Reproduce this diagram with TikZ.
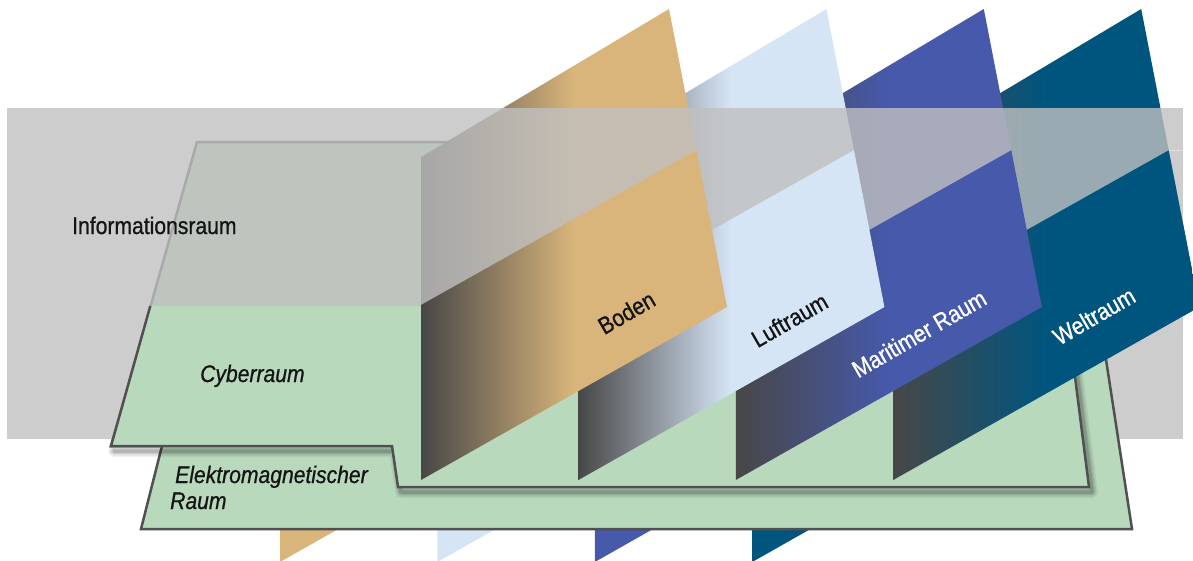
\documentclass[tikz,border=0pt]{standalone}
\usepackage{fontspec}
\setmainfont{Liberation Sans}[FakeStretch=0.88, FakeBold=0.8]
\definecolor{bgray}{HTML}{C0C0C0}
\definecolor{cgreen}{HTML}{B9D9BD}
\definecolor{outl}{HTML}{505050}
\definecolor{dk}{HTML}{474747}
\definecolor{tanc}{HTML}{D9B57B}
\definecolor{lblue}{HTML}{D6E5F6}
\definecolor{mblue}{HTML}{4659AB}
\definecolor{wteal}{HTML}{00557F}
\pgfdeclarehorizontalshading{shBoden}{100bp}{color(0bp)=(dk); color(25bp)=(dk); color(50bp)=(tanc); color(100bp)=(tanc)}
\pgfdeclarehorizontalshading{shLuft}{100bp}{color(0bp)=(dk); color(25bp)=(dk); color(50bp)=(lblue); color(100bp)=(lblue)}
\pgfdeclarehorizontalshading{shMar}{100bp}{color(0bp)=(dk); color(25bp)=(dk); color(50bp)=(mblue); color(100bp)=(mblue)}
\pgfdeclarehorizontalshading{shWelt}{100bp}{color(0bp)=(dk); color(25bp)=(dk); color(50bp)=(wteal); color(100bp)=(wteal)}
\newcommand\panelshape[1]{(421+#1,157) -- (669+#1,9) -- (727+#1,307) -- (421+#1,480) -- cycle}
\newcommand\frontclip[1]{(400+#1,316.8) -- (720+#1,137.1) -- (770+#1,137.1) -- (770+#1,520) -- (400+#1,520) -- cycle}
\tikzset{
  plane/.style={fill=cgreen, draw=outl, line width=2.5pt, line join=miter},
  lbl/.style={font=\fontsize{24}{26}\selectfont, inner sep=0pt, text=black!92},
  ilbl/.style={lbl, font=\fontsize{24}{26}\selectfont\itshape},
  plbl/.style={lbl, rotate=30},
}
\begin{document}
\begin{tikzpicture}[x=1pt,y=-1pt]
\useasboundingbox (0,0) rectangle (1193,560);
\clip (0,0) rectangle (1193,560);
% legs below the electromagnetic plane
\foreach \o/\c in {0/tanc, 157.4/lblue, 314.8/mblue, 472.2/wteal}
  \fill[\c] (280+\o,515) -- (363+\o,515) -- (280+\o,562) -- cycle;
% Cyberraum (back)
\filldraw[plane] (197,142) -- (111,446) -- (392,446) -- (398,487) -- (1089,487) -- (1045,142) -- cycle;
% panels (back)
\foreach \o/\s in {472.2/shWelt, 314.8/shMar, 157.4/shLuft, 0/shBoden}
  \shade[shading=\s] \panelshape{\o};
% Informationsraum overlay
\fill[bgray, opacity=0.8] (7,108) rectangle (1183,439);
\draw[white, opacity=0.4, line width=1pt] (1168,150) -- (1183,150);
% Elektromagnetischer Raum
\filldraw[plane] (141,529) -- (162.5,444) -- (200,444) -- (200,340) -- (1103,340) -- (1132,529) -- cycle;
% shadow of Cyberraum
\foreach \w/\op in {12/0.05, 9/0.07, 6/0.09, 3.5/0.12}
  \draw[black, opacity=\op, line width=\w pt, line join=round, line cap=round, shift={(3,5)}]
    (111,446) -- (392,446) -- (398,487) -- (1089,487) -- (1066,306);
% Cyberraum (front)
\filldraw[plane] (150.3,306) -- (111,446) -- (392,446) -- (398,487) -- (1089,487) -- (1066,306);
% panels (front)
\foreach \o/\s in {472.2/shWelt, 314.8/shMar, 157.4/shLuft, 0/shBoden}{
  \begin{scope}
    \clip \frontclip{\o};
    \shade[shading=\s] \panelshape{\o};
  \end{scope}
}
% labels
\node[lbl, anchor=base west] (info) at (72,234) {Informationsraum};
\node[ilbl, anchor=base west] (cyber) at (200,382) {Cyberraum};
\node[ilbl, anchor=base west] (em1) at (175,483) {Elektromagnetischer};
\node[ilbl, anchor=base west] (em2) at (170,509) {Raum};
\node[plbl] (boden) at (626.5,312.5) {Boden};
\node[plbl] (luft) at (789.5,320) {Luftraum};
\node[plbl, text=white] (mar) at (919,333.5) {Maritimer Raum};
\node[plbl, text=white] (welt) at (1094,316) {Weltraum};
\end{tikzpicture}
\end{document}
